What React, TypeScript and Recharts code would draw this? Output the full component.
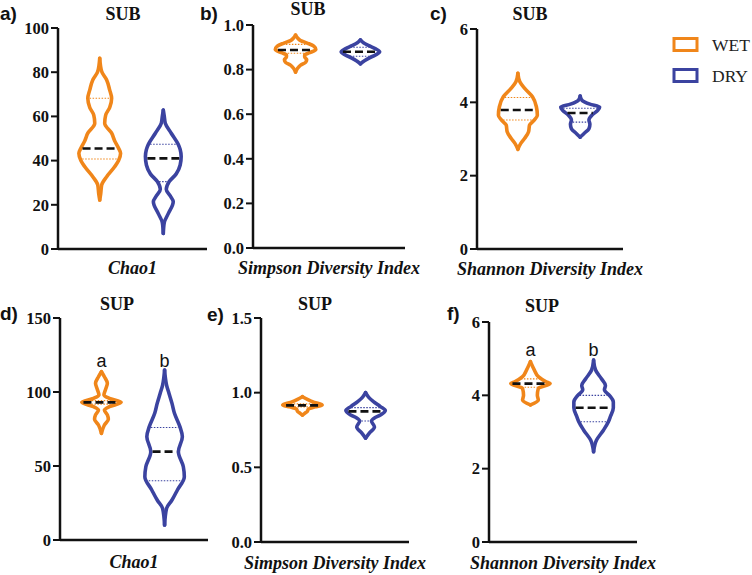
import React from 'react';
import { ScatterChart, Scatter, XAxis, YAxis, ReferenceDot } from 'recharts';

// ---------- data ----------
const GROUPS = ['WET', 'DRY'];
const GROUP_X = [42, 106]; // category positions on a 0..150 x scale
const ORANGE = '#F0861A';
const BLUE = '#3B43A0';
const COLORS = [ORANGE, BLUE];

// a) SUB Chao1
const A_WET_V = [22.2, 25, 29, 32.7, 37.2, 40, 43.3, 45.6, 49, 52.4, 56.9, 60.6, 64, 68.2, 72, 76.5, 80.3, 86.3];
const A_WET_W = [0, 1, 2, 7, 15, 19, 21, 19, 15, 12, 5, 6, 10, 12, 10, 7, 2, 0];
const A_DRY_V = [7, 12, 16, 21.4, 24, 27, 30.5, 34, 38, 41.8, 45, 47.4, 52.4, 56.9, 60, 62.9];
const A_DRY_W = [0, 1, 5, 10, 7, 3, 6, 13, 17, 18, 17, 15, 8, 2, 1, 0];
const A_STATS = [[45.5, 40.7, 68.2], [41, 30.5, 47.4]]; // median, q1, q3

// b) SUB Simpson
const B_WET_V = [0.789, 0.806, 0.82, 0.833, 0.845, 0.856, 0.866, 0.876, 0.89, 0.905, 0.918, 0.93, 0.942, 0.955];
const B_WET_W = [0, 2, 5, 10, 11, 9, 9, 14, 20, 18, 12, 5, 2, 0];
const B_DRY_V = [0.826, 0.84, 0.853, 0.866, 0.88, 0.893, 0.906, 0.92, 0.933];
const B_DRY_W = [0, 4, 9, 15, 19, 15, 9, 3, 0];
const B_STATS = [[0.888, 0.873, 0.913], [0.88, 0.86, 0.9]];

// c) SUB Shannon
const C_WET_V = [2.72, 2.88, 3.02, 3.2, 3.38, 3.52, 3.65, 3.88, 4.15, 4.38, 4.56, 4.79];
const C_WET_W = [0, 3, 7, 11, 12, 17, 20, 19, 15, 7, 2, 0];
const C_DRY_V = [3.05, 3.15, 3.28, 3.4, 3.52, 3.65, 3.78, 3.87, 3.95, 4.05, 4.17];
const C_DRY_W = [0, 4, 9, 10, 9, 12, 18, 20, 10, 2, 0];
const C_STATS = [[3.79, 3.52, 4.13], [3.71, 3.46, 3.84]];

// d) SUP Chao1
const D_WET_V = [72.1, 77.7, 81.6, 84.5, 87.8, 90.1, 93, 95.7, 98, 101.4, 105.9, 110.3, 113.7];
const D_WET_W = [0, 3, 7, 6, 3, 8, 20, 8, 2.5, 4, 6, 3, 0];
const D_DRY_V = [10.1, 21.4, 27, 33.8, 42.8, 49.5, 59.7, 69.8, 76.6, 85.6, 92.3, 99, 104.7, 114.9];
const D_DRY_W = [0, 2, 7.5, 13, 20, 19, 14, 18, 15.5, 10, 7.5, 4.5, 2, 0];
const D_STATS = [[93, 91.8, 94.2], [59.7, 40, 76]];

// e) SUP Simpson
const E_WET_V = [0.85, 0.86, 0.875, 0.89, 0.905, 0.918, 0.935, 0.955, 0.973];
const E_WET_W = [0, 2, 5, 6, 13, 20, 12, 5, 0];
const E_DRY_V = [0.695, 0.73, 0.77, 0.81, 0.83, 0.85, 0.88, 0.907, 0.94, 0.97, 1.0];
const E_DRY_W = [0, 4, 9, 6, 9, 15, 20, 15, 8, 3, 0];
const E_STATS = [[0.915, 0.905, 0.925], [0.875, 0.81, 0.9]];

// f) SUP Shannon
const F_WET_V = [3.74, 3.87, 4.0, 4.19, 4.32, 4.37, 4.51, 4.69, 4.92];
const F_WET_W = [0, 8, 7, 8, 20, 16, 8, 4, 0];
const F_DRY_V = [2.46, 2.78, 3.05, 3.28, 3.42, 3.66, 3.82, 4.0, 4.15, 4.27, 4.45, 4.69, 4.96];
const F_DRY_W = [0, 3, 10, 15, 17, 20, 20, 16, 11, 12, 8, 2, 0];
const F_STATS = [[4.32, 4.22, 4.45], [3.66, 3.28, 4.0]];

const TICKS_A = [0, 20, 40, 60, 80, 100];
const TICKS_B = [0, 0.2, 0.4, 0.6, 0.8, 1.0];
const TICKS_C = [0, 2, 4, 6];
const TICKS_D = [0, 50, 100, 150];
const TICKS_E = [0, 0.5, 1.0, 1.5];
const TICKS_F = [0, 2, 4, 6];

const SIG_LETTERS = ['a', 'b'];

// ---------- layout ----------
const SERIF = "'Liberation Serif', 'Times New Roman', serif";
const SANS = "'Liberation Sans', Arial, sans-serif";

type Panel = {
  id: string; letter: string; title: string; xLabel: string;
  L: number; R: number; T: number; B: number;
  ticks: number[]; dec: number;
  violins: { v: number[]; w: number[]; stats: number[] }[];
  sigY?: number;
  letterPos: [number, number]; titlePos: [number, number]; xLabelDy: number;
};

const PANELS: Panel[] = [
  { id: 'a', letter: 'a)', title: 'SUB', xLabel: 'Chao1', L: 58, R: 207, T: 28, B: 249, ticks: TICKS_A, dec: 0,
    violins: [{ v: A_WET_V, w: A_WET_W, stats: A_STATS[0] }, { v: A_DRY_V, w: A_DRY_W, stats: A_STATS[1] }],
    letterPos: [0, 20], titlePos: [123, 20], xLabelDy: 25 },
  { id: 'b', letter: 'b)', title: 'SUB', xLabel: 'Simpson Diversity Index', L: 253, R: 405, T: 25, B: 248, ticks: TICKS_B, dec: 1,
    violins: [{ v: B_WET_V, w: B_WET_W, stats: B_STATS[0] }, { v: B_DRY_V, w: B_DRY_W, stats: B_STATS[1] }],
    letterPos: [200, 20], titlePos: [308, 15], xLabelDy: 26 },
  { id: 'c', letter: 'c)', title: 'SUB', xLabel: 'Shannon Diversity Index', L: 477, R: 623, T: 29, B: 249, ticks: TICKS_C, dec: 0,
    violins: [{ v: C_WET_V, w: C_WET_W, stats: C_STATS[0] }, { v: C_DRY_V, w: C_DRY_W, stats: C_STATS[1] }],
    letterPos: [430, 20], titlePos: [530, 20], xLabelDy: 26 },
  { id: 'd', letter: 'd)', title: 'SUP', xLabel: 'Chao1', L: 60, R: 208, T: 318, B: 540, ticks: TICKS_D, dec: 0,
    violins: [{ v: D_WET_V, w: D_WET_W, stats: D_STATS[0] }, { v: D_DRY_V, w: D_DRY_W, stats: D_STATS[1] }],
    sigY: 121, letterPos: [0, 320], titlePos: [117, 310], xLabelDy: 28 },
  { id: 'e', letter: 'e)', title: 'SUP', xLabel: 'Simpson Diversity Index', L: 261, R: 409, T: 318, B: 542, ticks: TICKS_E, dec: 1,
    violins: [{ v: E_WET_V, w: E_WET_W, stats: E_STATS[0] }, { v: E_DRY_V, w: E_DRY_W, stats: E_STATS[1] }],
    letterPos: [207, 321], titlePos: [315, 310], xLabelDy: 27 },
  { id: 'f', letter: 'f)', title: 'SUP', xLabel: 'Shannon Diversity Index', L: 489, R: 637, T: 322, B: 542, ticks: TICKS_F, dec: 0,
    sigY: 5.24,
    violins: [{ v: F_WET_V, w: F_WET_W, stats: F_STATS[0] }, { v: F_DRY_V, w: F_DRY_W, stats: F_STATS[1] }],
    letterPos: [447, 320], titlePos: [542, 312], xLabelDy: 27 },
];

const EmptyShape = () => <g />;

function widthAt(v: number, vs: number[], ws: number[]) {
  for (let i = 0; i < vs.length - 1; i++) {
    if (v >= vs[i] && v <= vs[i + 1]) {
      const t = (v - vs[i]) / (vs[i + 1] - vs[i]);
      return ws[i] + t * (ws[i + 1] - ws[i]);
    }
  }
  return 0;
}

function violinSeries(pid: string, gi: number, vs: number[], ws: number[], stats: number[]) {
  const cx = GROUP_X[gi];
  const color = COLORS[gi];
  const els: React.ReactNode[] = [];
  [-1, 1].forEach((s) => {
    const d = vs.map((v, i) => ({ x: cx + s * ws[i], y: v }));
    els.push(
      <Scatter key={`${pid}-${gi}-side${s}`} data={d} fill={color} line={{ stroke: color, strokeWidth: 3.6, strokeLinejoin: 'round', strokeLinecap: 'round', fill: 'none' }}
        lineType="joint" lineJointType="monotoneY" shape={EmptyShape} isAnimationActive={false} />
    );
  });
  const [med, q1, q3] = stats;
  [q1, q3].forEach((q, k) => {
    const w = Math.max(widthAt(q, vs, ws) - 1.8, 0);
    els.push(
      <Scatter key={`${pid}-${gi}-q${k}`} data={[{ x: cx - w, y: q }, { x: cx + w, y: q }]} fill={color}
        line={{ stroke: color, strokeWidth: 1.1, strokeDasharray: '1.5 1.5', fill: 'none' }} lineType="joint" shape={EmptyShape} isAnimationActive={false} />
    );
  });
  const wm = Math.max(widthAt(med, vs, ws) - 1.8, 0);
  els.push(
    <Scatter key={`${pid}-${gi}-med`} data={[{ x: cx - wm, y: med }, { x: cx + wm, y: med }]} fill="#111"
      line={{ stroke: '#111', strokeWidth: 2.6, strokeDasharray: '8 4', fill: 'none' }} lineType="joint" shape={EmptyShape} isAnimationActive={false} />
  );
  return els;
}

const makeYTick = (dec: number) => (props: any) => {
  const { x, y, payload } = props;
  return (
    <text x={x} y={y} dy="0.35em" textAnchor="end" fontFamily={SERIF} fontWeight="bold" fontSize={16.5} fill="#111">
      {Number(payload.value).toFixed(dec)}
    </text>
  );
};

const MT = 12, MB = 40, YW = 60, MR = 10;

function PanelChart({ p }: { p: Panel }) {
  const width = p.R - p.L + YW + MR;
  const height = p.B - p.T + MT + MB;
  const max = p.ticks[p.ticks.length - 1];
  return (
    <div style={{ position: 'absolute', left: p.L - YW, top: p.T - MT, width, height }}>
      <ScatterChart width={width} height={height} margin={{ top: MT, right: MR, bottom: 0, left: 0 }}>
        <XAxis type="number" dataKey="x" domain={[0, 150]} ticks={[75]} tick={false} height={MB}
          axisLine={{ stroke: '#111', strokeWidth: 2.5 }} tickLine={{ stroke: '#111', strokeWidth: 2 }} tickSize={7} allowDataOverflow />
        <YAxis type="number" dataKey="y" domain={[0, max]} ticks={p.ticks} width={YW} interval={0}
          tick={makeYTick(p.dec)}
          axisLine={{ stroke: '#111', strokeWidth: 2.5 }} tickLine={{ stroke: '#111', strokeWidth: 2 }} tickSize={7} tickMargin={2} allowDataOverflow />
        {p.violins.flatMap((vl, gi) => violinSeries(p.id, gi, vl.v, vl.w, vl.stats))}
        {p.sigY !== undefined && SIG_LETTERS.map((s, gi) => (
          <ReferenceDot key={`sig-${gi}`} x={GROUP_X[gi]} y={p.sigY as number} r={0} fill="none" stroke="none"
            label={{ value: s, position: 'center', fontFamily: SANS, fontSize: 18, fill: '#111' }} />
        ))}
      </ScatterChart>
    </div>
  );
}

export default function App() {
  return (
    <div style={{ position: 'absolute', left: 0, top: 0, width: 752, height: 575, background: '#fff' }}>
      {PANELS.map((p) => <PanelChart key={p.id} p={p} />)}
      <svg width={752} height={575} style={{ position: 'absolute', left: 0, top: 0, pointerEvents: 'none' }}>
        {PANELS.map((p) => (
          <g key={`txt-${p.id}`}>
            <text x={p.letterPos[0]} y={p.letterPos[1]} fontFamily={SANS} fontWeight="bold" fontSize={19} fill="#111">{p.letter}</text>
            <text x={p.titlePos[0]} y={p.titlePos[1]} textAnchor="middle" fontFamily={SERIF} fontWeight="bold" fontSize={18} fill="#111">{p.title}</text>
            <text x={(p.L + p.R) / 2} y={p.B + p.xLabelDy} textAnchor="middle" fontFamily={SERIF} fontWeight="bold" fontStyle="italic" fontSize={18} fill="#111">{p.xLabel}</text>
          </g>
        ))}
        {GROUPS.map((g, i) => (
          <g key={`leg-${g}`}>
            <rect x={674} y={38.5 + i * 31} width={23} height={12} fill="none" stroke={COLORS[i]} strokeWidth={3} />
            <text x={712} y={51 + i * 30.5} fontFamily={SERIF} fontSize={17.5} fill="#222">{g}</text>
          </g>
        ))}
      </svg>
    </div>
  );
}
